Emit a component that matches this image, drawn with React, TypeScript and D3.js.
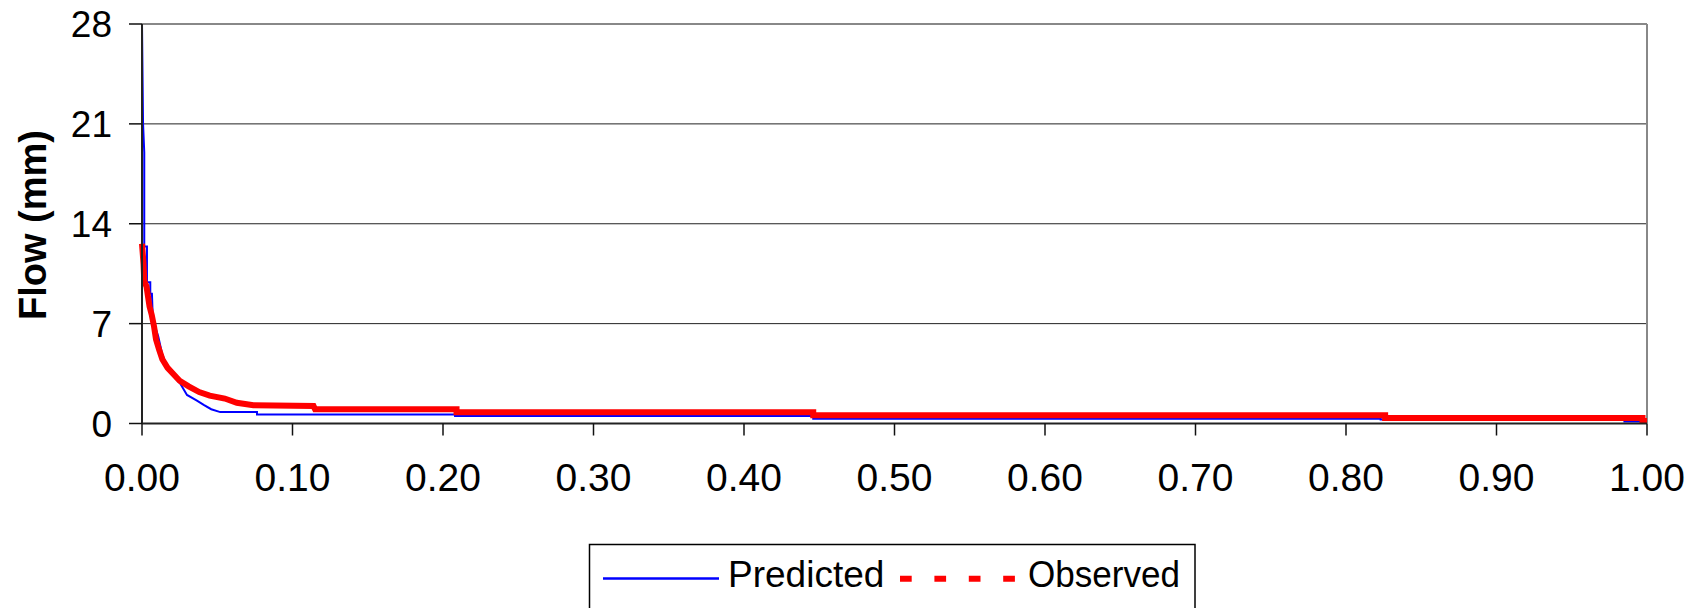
import React from "react";
import * as d3 from "d3";

// exceedance probability (x) and flow in mm (y)
const predictedX = [0, 0.0007, 0.0015, 0.0015, 0.0033, 0.0033, 0.0055, 0.0055, 0.0066, 0.0072, 0.0108, 0.0133, 0.0177, 0.0254, 0.0299, 0.0365, 0.041, 0.046, 0.052, 0.0764, 0.0764, 0.208, 0.208, 0.446, 0.446, 0.823, 0.823, 0.985, 0.985, 1.0];
const predictedFlow = [28, 21, 19, 12.4, 12.4, 9.9, 9.9, 9.1, 9.1, 7.3, 6.1, 4.9, 3.7, 2.8, 2.0, 1.6, 1.3, 1.0, 0.8, 0.8, 0.63, 0.63, 0.52, 0.52, 0.33, 0.33, 0.28, 0.28, 0.14, 0.14];

const observedX = [0, 0.001, 0.0015, 0.003, 0.004, 0.005, 0.0065, 0.008, 0.0093, 0.0113, 0.0135, 0.017, 0.0205, 0.025, 0.031, 0.038, 0.045, 0.055, 0.063, 0.074, 0.114, 0.115, 0.209, 0.209, 0.446, 0.446, 0.826, 0.826, 0.997, 0.997, 1.0];
const observedFlow = [12.6, 11.2, 10.0, 9.6, 8.9, 8.2, 7.6, 6.8, 5.9, 5.2, 4.5, 3.9, 3.5, 3.0, 2.6, 2.2, 1.95, 1.75, 1.45, 1.28, 1.22, 1.0, 1.0, 0.78, 0.78, 0.58, 0.58, 0.39, 0.39, 0.17, 0.17];

const yTicks = [0, 7, 14, 21, 28];
const xTicks = [0, 0.1, 0.2, 0.3, 0.4, 0.5, 0.6, 0.7, 0.8, 0.9, 1.0];
const seriesNames = ["Predicted", "Observed"];

const W = 1702;
const H = 608;
const left = 142;
const right = 1647;
const top = 24;
const bottom = 423.5;
const font = "'Liberation Sans', Arial, sans-serif";

export default function App() {
  const x = d3.scaleLinear().domain([0, 1]).range([left, right]);
  const y = d3.scaleLinear().domain([0, 28]).range([bottom, top]);
  const fmt = d3.format(".2f");

  const line = d3
    .line<[number, number]>()
    .x((d) => x(d[0]))
    .y((d) => y(d[1]));

  const pred = predictedX.map((v, i) => [v, predictedFlow[i]] as [number, number]);
  const obs = observedX.map((v, i) => [v, observedFlow[i]] as [number, number]);

  return (
    <svg
      width={W}
      height={H}
      style={{ position: "absolute", left: 0, top: 0, background: "#fff" }}
      fontFamily={font}
    >
      {/* gridlines */}
      {yTicks.slice(1, -1).map((t) => (
        <line key={"g" + t} x1={left} x2={right} y1={y(t)} y2={y(t)} stroke="#222" strokeWidth={1} />
      ))}
      {/* frame */}
      <line x1={left} x2={right} y1={top} y2={top} stroke="#888" strokeWidth={2} />
      <line x1={right} x2={right} y1={top} y2={bottom} stroke="#888" strokeWidth={2} />

      {/* series */}
      <path d={line(pred) ?? ""} fill="none" stroke="#0000ff" strokeWidth={2} />
      <path d={line(obs) ?? ""} fill="none" stroke="#ff0000" strokeWidth={6} />

      {/* axes */}
      <line x1={left} x2={left} y1={top} y2={bottom} stroke="#222" strokeWidth={2} />
      <line x1={left} x2={right} y1={bottom} y2={bottom} stroke="#222" strokeWidth={2} />

      {yTicks.map((t) => (
        <g key={"y" + t}>
          <line x1={left - 13} x2={left} y1={y(t)} y2={y(t)} stroke="#111" strokeWidth={1.5} />
          <text x={112} y={y(t)} dy="0.36em" textAnchor="end" fontSize={37} fill="#000">
            {t}
          </text>
        </g>
      ))}
      {xTicks.map((t) => (
        <g key={"x" + t}>
          <line x1={x(t)} x2={x(t)} y1={bottom} y2={bottom + 12} stroke="#111" strokeWidth={1.5} />
          <text x={x(t)} y={491} textAnchor="middle" fontSize={39} fill="#000">
            {fmt(t)}
          </text>
        </g>
      ))}

      <text
        transform={`translate(46,225) rotate(-90)`}
        textAnchor="middle"
        fontSize={38}
        fontWeight="bold"
        fill="#000"
      >
        Flow (mm)
      </text>

      {/* legend */}
      <rect x={589.5} y={544.5} width={605.5} height={80} fill="#fff" stroke="#000" strokeWidth={1.5} />
      <line x1={603} x2={719} y1={578.5} y2={578.5} stroke="#0000ff" strokeWidth={2.5} />
      <text x={728} y={586.5} fontSize={37} fill="#000">
        {seriesNames[0]}
      </text>
      <line
        x1={900}
        x2={1016}
        y1={578.8}
        y2={578.8}
        stroke="#ff0000"
        strokeWidth={6}
        strokeDasharray="11.7 22.7"
      />
      <text x={1028} y={586.5} fontSize={37} fill="#000" textLength={152} lengthAdjust="spacingAndGlyphs">
        {seriesNames[1]}
      </text>
    </svg>
  );
}
